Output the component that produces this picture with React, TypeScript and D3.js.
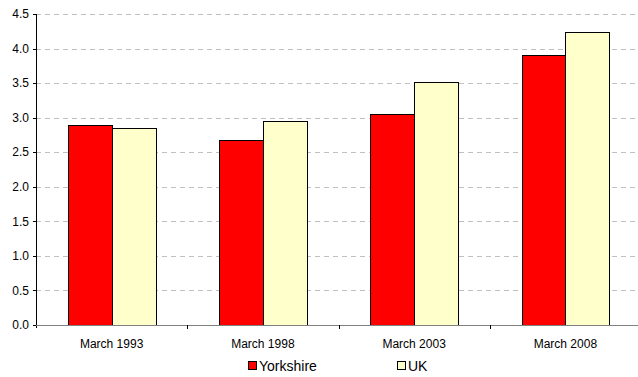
import React from "react";
import * as d3 from "d3";

const categories = ["March 1993", "March 1998", "March 2003", "March 2008"];
const yorkshire = [2.9, 2.67, 3.05, 3.9];
const uk = [2.85, 2.95, 3.51, 4.245];
const seriesNames = ["Yorkshire", "UK"];
const seriesColors = ["#ff0000", "#ffffcc"];
const yTicks = [0, 0.5, 1, 1.5, 2, 2.5, 3, 3.5, 4, 4.5];

const W = 638;
const H = 377;
const margin = { top: 14, right: -3, bottom: 52, left: 36 };

export default function App() {
  const x = d3
    .scaleBand()
    .domain(categories)
    .range([margin.left, W - margin.right]);
  const y = d3
    .scaleLinear()
    .domain([0, 4.5])
    .range([H - margin.bottom, margin.top]);
  const inner = d3
    .scaleBand()
    .domain(seriesNames)
    .range([0, x.bandwidth()])
    .paddingInner(0)
    .paddingOuter(0.73);

  const series = [yorkshire, uk];
  const font = "'Liberation Sans', Arial, sans-serif";
  const y0 = y(0);

  return (
    <svg
      width={W}
      height={H}
      style={{ position: "absolute", left: 0, top: 0, background: "#fff" }}
      fontFamily={font}
    >
      {yTicks.slice(1).map((t) => (
        <line
          key={t}
          x1={margin.left}
          x2={W}
          y1={Math.round(y(t)) + 0.5}
          y2={Math.round(y(t)) + 0.5}
          stroke="#c0c0c0"
          strokeDasharray="5,4"
        />
      ))}
      {categories.map((c, i) =>
        series.map((s, k) => (
          <rect
            key={c + k}
            x={Math.round(x(c)! + inner(seriesNames[k])!) + 0.5}
            y={Math.round(y(s[i])) + 0.5}
            width={Math.round(inner.bandwidth())}
            height={Math.round(y0 - y(s[i]))}
            fill={seriesColors[k]}
            stroke="#000"
            strokeWidth={1}
          />
        ))
      )}
      {/* y axis */}
      <line x1={margin.left + 0.5} x2={margin.left + 0.5} y1={y(4.5)} y2={y0 + 3} stroke="#000" />
      {yTicks.map((t) => (
        <g key={t}>
          <line
            x1={margin.left - 3}
            x2={margin.left}
            y1={Math.round(y(t)) + 0.5}
            y2={Math.round(y(t)) + 0.5}
            stroke="#000"
          />
          <text
            x={margin.left - 7}
            y={y(t)}
            dy="0.35em"
            textAnchor="end"
            fontSize={12}
            fill="#000"
          >
            {t.toFixed(1)}
          </text>
        </g>
      ))}
      {/* x axis */}
      <line x1={margin.left} x2={W} y1={Math.round(y0) + 0.5} y2={Math.round(y0) + 0.5} stroke="#808080" />
      {categories.slice(1).map((c) => (
        <line
          key={c}
          x1={Math.round(x(c)!) + 0.5}
          x2={Math.round(x(c)!) + 0.5}
          y1={y0}
          y2={y0 + 4}
          stroke="#000"
        />
      ))}
      {categories.map((c) => (
        <text
          key={c}
          x={x(c)! + x.bandwidth() / 2}
          y={y0 + 23}
          textAnchor="middle"
          fontSize={12}
          fill="#000"
        >
          {c}
        </text>
      ))}
      {/* legend */}
      {seriesNames.map((n, k) => {
        const lx = [248, 397][k];
        return (
          <g key={n}>
            <rect x={lx + 0.5} y={361.5} width={8} height={8} fill={seriesColors[k]} stroke="#000" />
            <text x={lx + 11} y={366} dy="0.35em" fontSize={14} fill="#000">
              {n}
            </text>
          </g>
        );
      })}
    </svg>
  );
}
